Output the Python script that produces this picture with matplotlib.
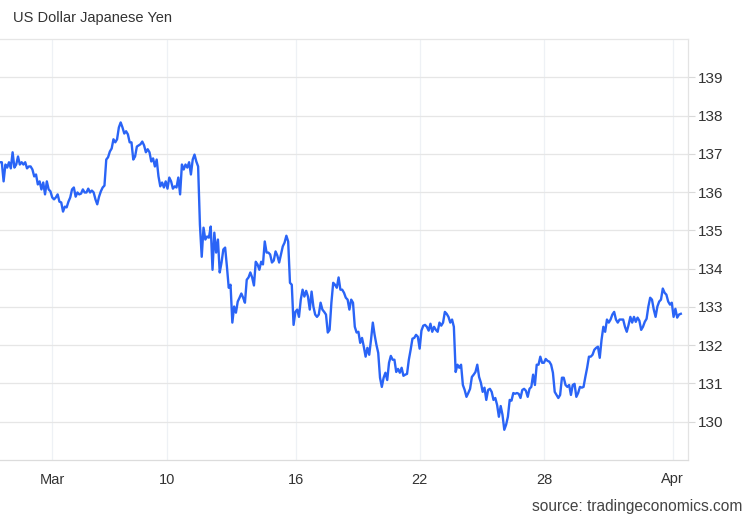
import numpy as np
import matplotlib
matplotlib.use("Agg")
import matplotlib.pyplot as plt

plt.rcParams['font.family'] = ['Liberation Sans', 'DejaVu Sans']

# USD/JPY quotes in time order (regular sampling)
price = [
    # late Feb - Mar 9
    136.78, 136.78, 136.28, 136.72, 136.64, 136.78, 136.62, 137.04, 136.64, 136.72,
    136.93, 136.72, 136.78, 136.72, 136.78, 136.62, 136.67, 136.67, 136.59, 136.41,
    136.46, 136.20, 136.28, 136.07, 136.25, 135.94, 136.28, 136.07, 136.02, 135.86,
    135.81, 135.86, 135.94, 135.75, 135.73, 135.49, 135.62, 135.60, 135.75, 135.86,
    136.07, 136.12, 135.88, 135.99, 135.94, 135.96, 136.07, 135.99, 135.99, 136.09,
    135.99, 136.04, 135.99, 135.81, 135.68, 135.88, 136.02, 136.12, 136.17, 136.85,
    136.91, 137.06, 137.14,
    137.38, 137.30, 137.38, 137.69, 137.82, 137.69, 137.53, 137.59, 137.51, 137.30,
    137.30, 136.85, 136.93, 137.19, 137.22, 137.25, 137.32, 137.22, 137.04, 137.12,
    137.04, 136.80, 136.88, 136.67, 136.85, 136.41, 136.15, 136.25, 136.12, 136.28,
    136.09, 136.38, 136.28, 136.09, 136.15, 136.12, 136.38, 135.94, 136.72, 136.59,
    136.72, 136.64, 136.78, 136.46, 136.85, 136.98, 136.80, 136.67, 135.15, 134.31,
    135.07, 134.76, 134.84, 134.81, 135.10, 133.97, 134.94, 134.42, 134.76, 133.90,
    134.16, 134.50, 134.55, 134.05, 133.50, 133.58,
    # Mar 13 - Mar 21
    132.59, 133.01, 132.85, 133.14, 133.24, 133.35, 133.24, 133.11, 133.71, 133.77,
    133.90, 133.77, 133.56, 134.18, 134.11, 133.97, 134.18, 134.11, 134.71, 134.42,
    134.42, 134.37, 134.16, 134.21, 134.45, 134.34, 134.16, 134.37, 134.58, 134.68,
    134.86, 134.71, 133.63, 133.58, 132.53, 132.87, 132.93, 132.74, 133.19, 133.45,
    133.27, 133.42, 133.27, 132.93, 133.40, 133.01, 132.80, 132.74, 132.80, 133.11,
    132.93, 132.87, 132.80, 132.33, 132.40, 133.11, 133.63, 133.58, 133.50, 133.77,
    133.45, 133.45, 133.37, 133.24,
    133.19, 132.93, 133.19, 133.11, 132.48, 132.33, 132.35, 132.06, 132.19, 131.96,
    131.70, 131.93, 131.75, 132.14, 132.59, 132.27, 132.01, 131.80, 131.15, 130.91,
    131.15, 131.28, 131.09, 131.54, 131.72, 131.62, 131.62, 131.30, 131.38, 131.28,
    131.41, 131.20, 131.23, 131.25, 131.62, 131.88, 132.17, 132.19, 132.27, 132.22,
    131.91, 132.38, 132.51, 132.53, 132.48, 132.38, 132.56, 132.35, 132.48, 132.40,
    132.35, 132.59, 132.51, 132.59, 132.87, 132.82, 132.74, 132.59, 132.67, 132.48,
    131.30,
    # Mar 23 - Mar 31
    131.49, 131.41, 131.49, 130.96, 130.83, 130.65, 130.75, 130.86, 131.17, 131.23,
    131.30, 131.49, 131.17, 131.02, 130.78, 130.89, 130.57, 130.83, 130.86, 130.78,
    130.57, 130.62, 130.44, 130.13, 130.41, 130.18, 129.79, 129.92, 130.13, 130.57,
    130.55, 130.75, 130.73, 130.75, 130.73, 130.62, 130.83, 130.86, 130.81, 130.65,
    130.86, 130.91, 131.23, 130.96, 131.49, 131.49, 131.70, 131.54, 131.54, 131.64,
    131.59, 131.57, 131.49, 131.28, 130.78, 130.70, 130.62, 130.70, 131.15,
    131.15, 130.96, 130.91, 130.96, 130.70, 130.96, 130.99, 130.65, 130.75, 130.91,
    130.89, 130.91, 131.17, 131.41, 131.70, 131.70, 131.75, 131.88, 131.93, 131.96,
    131.67, 132.14, 132.48, 132.35, 132.67, 132.59, 132.67, 132.80, 132.87, 132.67,
    132.59, 132.67, 132.67, 132.67, 132.48, 132.35, 132.53, 132.74, 132.59, 132.74,
    132.61, 132.72, 132.64, 132.40, 132.48, 132.61, 132.69, 133.01, 133.24, 133.19,
    132.93, 132.74, 133.01, 133.14, 133.19, 133.48, 133.37, 133.32, 133.14, 133.06,
    133.11, 132.74, 132.95, 132.72, 132.80, 132.82,
]

# sample index where each date label sits
date_pos = [29, 93, 164.5, 233, 302, 373.5]
date_labels = ['Mar', '10', '16', '22', '28', 'Apr']
y_ticks = [130, 131, 132, 133, 134, 135, 136, 137, 138, 139]

x = np.arange(len(price))

fig = plt.figure(figsize=(7.5, 5.2), dpi=100)
ax = fig.add_axes([0.0, 60 / 520, 688 / 750, 421 / 520])

ax.plot(x, price, color='#2a64f6', lw=1.7, solid_joinstyle='round', zorder=3)

ax.set_xlim(0, 382)
ax.set_ylim(129, 140)

ax.set_yticks(y_ticks)
ax.yaxis.tick_right()
ax.tick_params(axis='y', length=5, width=0.8, color='#d9d9d9', pad=2,
               labelsize=11, labelcolor='#333333')
ax.set_xticks(date_pos)
ax.set_xticklabels(date_labels)
ax.tick_params(axis='x', length=0, pad=9, labelsize=10.5, labelcolor='#333333')

ax.grid(axis='y', color='#e6e6e6', lw=0.9, zorder=0)
ax.grid(axis='x', color='#eef1f5', lw=0.9, zorder=0)

ax.spines['left'].set_visible(False)
ax.spines['top'].set_color('#e6e6e6')
ax.spines['right'].set_color('#e3e3e3')
ax.spines['bottom'].set_color('#dcdcdc')
for s in ax.spines.values():
    s.set_linewidth(0.9)

fig.text(13 / 750, 1 - 18 / 520, 'US Dollar Japanese Yen', fontsize=10.5,
         color='#333333', va='center', ha='left')
fig.text(742 / 750, 1 - 507 / 520, 'source: tradingeconomics.com', fontsize=11.2,
         color='#444444', va='center', ha='right')

fig.savefig('out.png', dpi=100, facecolor='white')
